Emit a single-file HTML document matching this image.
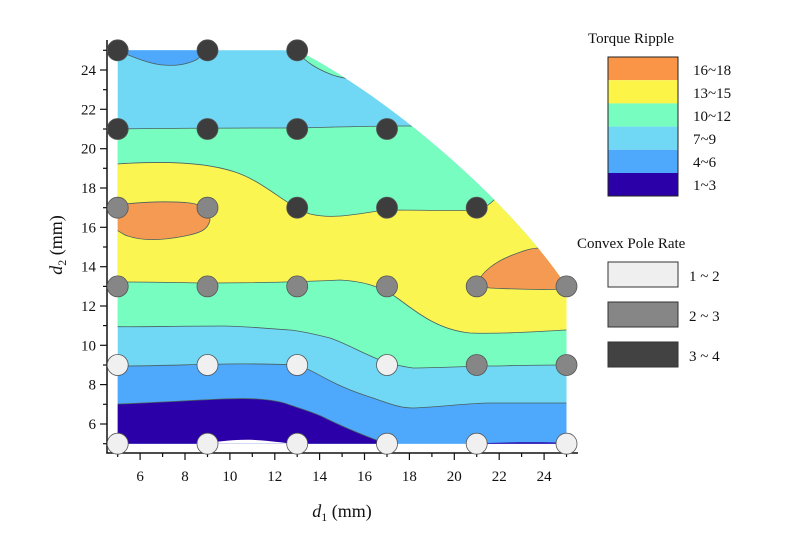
<!DOCTYPE html>
<html><head><meta charset="utf-8"><style>
html,body{margin:0;padding:0;background:#fff;}
svg{display:block;}
text{font-family:"Liberation Serif",serif;fill:#111;}
</style></head><body>
<svg width="799" height="549" viewBox="0 0 799 549" xmlns="http://www.w3.org/2000/svg">
<defs>
<clipPath id="reg">
<path d="M117.7,50.3 L297.2,50.3 C385,95 505,195 566.5,286 L566.5,443.7 L117.7,443.7 Z"/>
</clipPath>
</defs>
<g clip-path="url(#reg)" stroke="#4a6060" stroke-width="0.8">
<rect x="110" y="40" width="470" height="410" fill="#70d7f5" stroke="none"/>
<path fill="#4ea8fb" d="M110,366 L118,366 C180,366 230,362 297,365 C315,370 330,385 373,398 C390,404 400,408 413,408 C440,407 470,403 490,403 L567,403 L600,403 L600,450 L110,450 Z"/>
<path fill="#2c00a8" d="M110,404 L118,404 C180,402 230,397 257,399 C275,400 285,403 290,405 C305,410 315,413 323,417 C345,428 365,436 387,444 L110,450 Z"/>
<path fill="#fff" stroke="none" d="M200,444 C215,442 235,439 255,440 C272,441 285,443 295,444 Z"/>
<path fill="#2c00a8" stroke="none" d="M487,443 C520,442 545,442 567,443 L567,444 L487,444 Z"/>
<path fill="#76fdbf" d="M110,129 L117,129 C170,128 230,128 297,128 C340,127 370,126 400,126 L600,126 L600,365 L567,365 C530,365 500,366 490,366 C450,367 430,368 413,368 C400,366 390,364 380,360 C360,352 345,343 330,338 C310,333 300,331 290,330 C260,328 240,326 223,326 C180,326 140,327 117.7,326.7 L110,327 Z"/>
<path fill="#faf551" d="M110,164 L117,164 C160,161 205,162 235,172 C265,182 285,205 310,214 C335,220 360,213 386,210 C420,210 460,211 477,210 C485,208 490,204 495,199 L600,199 L600,330 L566,330 C530,332 500,334 470,333 C440,330 420,315 400,300 C380,285 360,281 340,280 C300,282 250,283 200,283 C160,282 130,282 110,282 Z"/>
<path fill="#f59a52" d="M110,206 L125,204 C145,202 170,201 190,203 C205,205 210,212 210,220 C208,230 200,233 185,236 C160,241 140,241 125,235 C118,231 114,228 110,227 Z"/>
<path fill="#f59a52" d="M478,282 C482,272 495,262 510,256 C525,250 532,248 540,248 L600,248 L600,288 L566,289 C540,290 510,289 490,288 C482,287 479,285 478,282 Z"/>
<path fill="#4ea8fb" d="M110,50 L117,50 C130,56 150,64 163,65 C175,66 185,65 196,60 C202,56 205,53 208,50 L208,40 L110,40 Z"/>
<path fill="#76fdbf" d="M300,55 C307,62 315,68 330,74 C340,78 350,79 360,80 L400,40 L300,40 Z"/>
</g>
<g stroke="#111" stroke-width="1.5" fill="none">
<line x1="107" y1="40" x2="107" y2="453.5"/>
<line x1="106.3" y1="453" x2="578" y2="453"/>
</g>
<g stroke="#111" stroke-width="1.2">
<line x1="140.1" y1="453" x2="140.1" y2="460"/><line x1="185" y1="453" x2="185" y2="460"/><line x1="229.9" y1="453" x2="229.9" y2="460"/><line x1="274.8" y1="453" x2="274.8" y2="460"/><line x1="319.6" y1="453" x2="319.6" y2="460"/><line x1="364.5" y1="453" x2="364.5" y2="460"/><line x1="409.4" y1="453" x2="409.4" y2="460"/><line x1="454.3" y1="453" x2="454.3" y2="460"/><line x1="499.2" y1="453" x2="499.2" y2="460"/><line x1="544.1" y1="453" x2="544.1" y2="460"/>
<line x1="117.7" y1="453" x2="117.7" y2="457"/><line x1="162.6" y1="453" x2="162.6" y2="457"/><line x1="207.5" y1="453" x2="207.5" y2="457"/><line x1="252.3" y1="453" x2="252.3" y2="457"/><line x1="297.2" y1="453" x2="297.2" y2="457"/><line x1="342.1" y1="453" x2="342.1" y2="457"/><line x1="387" y1="453" x2="387" y2="457"/><line x1="431.9" y1="453" x2="431.9" y2="457"/><line x1="476.7" y1="453" x2="476.7" y2="457"/><line x1="521.6" y1="453" x2="521.6" y2="457"/><line x1="566.5" y1="453" x2="566.5" y2="457"/>
<line x1="100" y1="424" x2="107" y2="424"/><line x1="100" y1="384.6" x2="107" y2="384.6"/><line x1="100" y1="345.3" x2="107" y2="345.3"/><line x1="100" y1="306" x2="107" y2="306"/><line x1="100" y1="266.7" x2="107" y2="266.7"/><line x1="100" y1="227.3" x2="107" y2="227.3"/><line x1="100" y1="188" x2="107" y2="188"/><line x1="100" y1="148.7" x2="107" y2="148.7"/><line x1="100" y1="109.3" x2="107" y2="109.3"/><line x1="100" y1="70" x2="107" y2="70"/>
<line x1="103" y1="443.7" x2="107" y2="443.7"/><line x1="103" y1="404.3" x2="107" y2="404.3"/><line x1="103" y1="365" x2="107" y2="365"/><line x1="103" y1="325.6" x2="107" y2="325.6"/><line x1="103" y1="286.4" x2="107" y2="286.4"/><line x1="103" y1="247" x2="107" y2="247"/><line x1="103" y1="207.7" x2="107" y2="207.7"/><line x1="103" y1="168.3" x2="107" y2="168.3"/><line x1="103" y1="129" x2="107" y2="129"/><line x1="103" y1="89.7" x2="107" y2="89.7"/><line x1="103" y1="50.3" x2="107" y2="50.3"/>
</g>
<g font-size="15" text-anchor="middle">
<text x="140.1" y="481">6</text><text x="229.9" y="481">10</text><text x="185" y="481">8</text><text x="274.8" y="481">12</text><text x="319.6" y="481">14</text><text x="364.5" y="481">16</text><text x="409.4" y="481">18</text><text x="454.3" y="481">20</text><text x="499.2" y="481">22</text><text x="544.1" y="481">24</text>
</g>
<g font-size="15" text-anchor="end">
<text x="96" y="429">6</text><text x="96" y="389.6">8</text><text x="96" y="350.3">10</text><text x="96" y="311">12</text><text x="96" y="271.7">14</text><text x="96" y="232.3">16</text><text x="96" y="193">18</text><text x="96" y="153.7">20</text><text x="96" y="114.3">22</text><text x="96" y="75">24</text>
</g>
<text x="342" y="517" font-size="18" text-anchor="middle"><tspan font-style="italic">d</tspan><tspan font-size="12" dy="4">1</tspan><tspan dy="-4"> (mm)</tspan></text>
<text transform="translate(62,245) rotate(-90)" font-size="18" text-anchor="middle"><tspan font-style="italic">d</tspan><tspan font-size="12" dy="4">2</tspan><tspan dy="-4"> (mm)</tspan></text>
<g stroke="#555" stroke-width="0.8">
<g fill="#3d3d3d">
<circle cx="117.7" cy="50.3" r="10.5"/><circle cx="207.5" cy="50.3" r="10.5"/><circle cx="297.2" cy="50.3" r="10.5"/>
<circle cx="117.7" cy="129" r="10.5"/><circle cx="207.5" cy="129" r="10.5"/><circle cx="297.2" cy="129" r="10.5"/><circle cx="387" cy="129" r="10.5"/>
<circle cx="297.2" cy="207.7" r="10.5"/><circle cx="387" cy="207.7" r="10.5"/><circle cx="476.7" cy="207.7" r="10.5"/>
</g>
<g fill="#868686">
<circle cx="117.7" cy="207.7" r="10.5"/><circle cx="207.5" cy="207.7" r="10.5"/>
<circle cx="117.7" cy="286.4" r="10.5"/><circle cx="207.5" cy="286.4" r="10.5"/><circle cx="297.2" cy="286.4" r="10.5"/><circle cx="387" cy="286.4" r="10.5"/><circle cx="476.7" cy="286.4" r="10.5"/><circle cx="566.5" cy="286.4" r="10.5"/>
<circle cx="476.7" cy="365" r="10.5"/><circle cx="566.5" cy="365" r="10.5"/>
</g>
<g fill="#f0f0f0">
<circle cx="117.7" cy="365" r="10.5"/><circle cx="207.5" cy="365" r="10.5"/><circle cx="297.2" cy="365" r="10.5"/><circle cx="387" cy="365" r="10.5"/>
<circle cx="117.7" cy="443.7" r="10.5"/><circle cx="207.5" cy="443.7" r="10.5"/><circle cx="297.2" cy="443.7" r="10.5"/><circle cx="387" cy="443.7" r="10.5"/><circle cx="476.7" cy="443.7" r="10.5"/><circle cx="566.5" cy="443.7" r="10.5"/>
</g>
</g>
<text x="588" y="43" font-size="15">Torque Ripple</text>
<rect x="608" y="57" width="70" height="23.2" fill="#fa9548"/>
<rect x="608" y="80.2" width="70" height="23.2" fill="#fcf548"/>
<rect x="608" y="103.4" width="70" height="23.2" fill="#76fdbf"/>
<rect x="608" y="126.6" width="70" height="23.2" fill="#70d7f5"/>
<rect x="608" y="149.8" width="70" height="23.2" fill="#4ea8fb"/>
<rect x="608" y="173" width="70" height="23" fill="#2c00a8"/>
<rect x="608" y="57" width="70" height="139" fill="none" stroke="#222" stroke-width="1"/>
<g font-size="15">
<text x="693" y="75">16~18</text><text x="693" y="98">13~15</text><text x="693" y="121">10~12</text><text x="693" y="144">7~9</text><text x="693" y="167">4~6</text><text x="693" y="190">1~3</text>
</g>
<text x="577" y="248" font-size="15">Convex Pole Rate</text>
<rect x="608" y="262" width="70" height="25" fill="#efefef" stroke="#333" stroke-width="1"/>
<rect x="608" y="302" width="70" height="25" fill="#868686" stroke="#333" stroke-width="1"/>
<rect x="608" y="342" width="70" height="25" fill="#424242" stroke="#333" stroke-width="1"/>
<g font-size="15">
<text x="689" y="281">1 ~ 2</text><text x="689" y="321">2 ~ 3</text><text x="689" y="361">3 ~ 4</text>
</g>
</svg>
</body></html>
